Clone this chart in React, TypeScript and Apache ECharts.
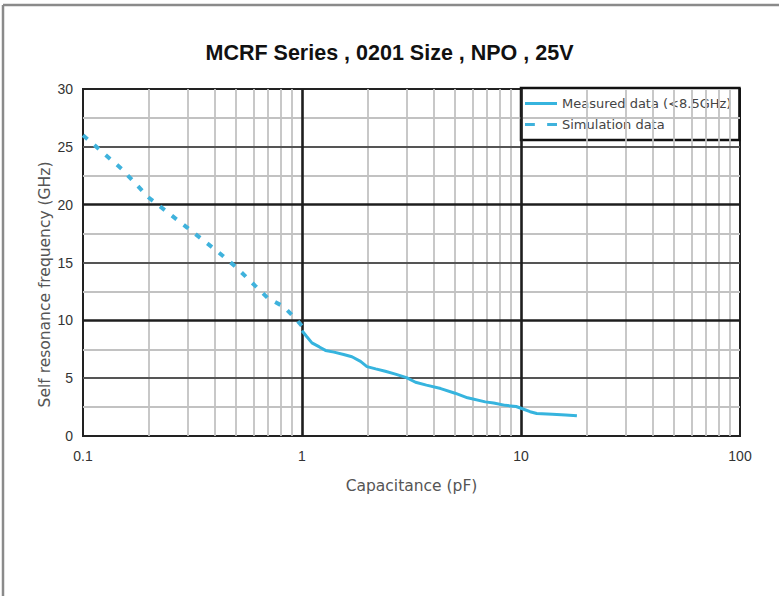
import React, { useEffect, useRef } from "react";
import * as echarts from "echarts";

const titleText = "MCRF Series , 0201 Size , NPO , 25V";
const xAxisName = "Capacitance (pF)";
const yAxisName = "Self resonance frequency (GHz)";
const seriesNames = ["Measured data (<8.5GHz)", "Simulation data"];

// Measured curve (capacitance pF -> SRF GHz)
const measuredC = [1, 1.05, 1.11, 1.2, 1.28, 1.4, 1.55, 1.69, 1.85, 1.98, 2.17, 2.4, 2.67, 3.0, 3.3, 3.7, 4.3, 5.0, 5.7, 6.87, 7.5, 8.48, 9.5, 10, 11, 11.8, 13.9, 16, 18];
const measuredF = [9.1, 8.6, 8.05, 7.7, 7.4, 7.25, 7.05, 6.85, 6.45, 6.0, 5.8, 5.6, 5.35, 5.05, 4.65, 4.4, 4.1, 3.7, 3.3, 2.95, 2.85, 2.65, 2.55, 2.4, 2.1, 1.95, 1.88, 1.82, 1.75];

// Simulation curve
const simC = [0.1, 0.15, 0.2, 0.3, 0.415, 0.5, 0.61, 0.7, 0.822, 0.94, 1];
const simF = [26, 23.1, 20.6, 18.0, 15.9, 14.6, 13.0, 11.9, 11.2, 10.1, 9.5];

// Axis ticks / gridlines
const xMin = 0.1;
const xMax = 100;
const yMin = 0;
const yMax = 30;
const yInterval = 5;
const minorXLines = [0.2, 0.3, 0.4, 0.5, 0.6, 0.7, 0.8, 0.9, 2, 3, 4, 5, 6, 7, 8, 9, 20, 30, 40, 50, 60, 70, 80, 90];
const majorXLines = [1, 10];
const minorYLines = [2.5, 7.5, 12.5, 17.5, 22.5, 27.5];
const midYLines = [5, 15, 25];
const majorYLines = [10, 20];

const measuredData = measuredC.map((c, i) => [c, measuredF[i]]);
const simData = simC.map((c, i) => [c, simF[i]]);

const lineColor = "#36b4de";
const simColor = "#3fb2dc";

export default function App() {
  const ref = useRef<HTMLDivElement>(null);
  useEffect(() => {
    if (!ref.current) return;
    const chart = echarts.init(ref.current, undefined, { renderer: "svg" });
    const lightStyle = { color: "#c2c2c2", width: 1.8, type: "solid" as const };
    const midStyle = { color: "#555555", width: 2, type: "solid" as const };
    const darkStyle = { color: "#1e1e1e", width: 2.6, type: "solid" as const };
    const gridLines = [
      ...minorXLines.map((v) => ({ xAxis: v, lineStyle: lightStyle })),
      ...minorYLines.map((v) => ({ yAxis: v, lineStyle: lightStyle })),
      ...midYLines.map((v) => ({ yAxis: v, lineStyle: midStyle })),
      ...majorYLines.map((v) => ({ yAxis: v, lineStyle: darkStyle })),
      ...majorXLines.map((v) => ({ xAxis: v, lineStyle: darkStyle })),
    ];
    chart.setOption({
      animation: false,
      backgroundColor: "#ffffff",
      textStyle: { fontFamily: "Liberation Sans, Arial, sans-serif" },
      title: {
        text: titleText,
        left: "center",
        top: 42,
        padding: 0,
        textStyle: { fontFamily: "Liberation Sans", fontWeight: "bold", fontSize: 21.5, color: "#111" },
      },
      graphic: [
        { type: "line", shape: { x1: 3, y1: 5, x2: 779, y2: 5 }, style: { stroke: "#8a8a8a", lineWidth: 2.5 } },
        { type: "line", shape: { x1: 3, y1: 5, x2: 3, y2: 596 }, style: { stroke: "#8a8a8a", lineWidth: 2.5 } },
      ],
      grid: {
        left: 83,
        right: 39,
        top: 89,
        bottom: 160,
        show: true,
        borderColor: "#222",
        borderWidth: 2,
        backgroundColor: "#fff",
      },
      legend: {
        data: [
          { name: seriesNames[0], icon: "path://M0,0h32v3h-32z", itemStyle: { color: lineColor } },
          { name: seriesNames[1], icon: "path://M0,0h8v3h-8z M18,0h8v3h-8z", itemStyle: { color: simColor } },
        ],
        orient: "vertical",
        left: 521,
        top: 88,
        itemWidth: 32,
        itemHeight: 3,
        symbolKeepAspect: false,
        itemGap: 8,
        backgroundColor: "#fff",
        borderColor: "#111",
        borderWidth: 2.5,
        borderRadius: 0,
        padding: [9, 8, 9, 4],
        textStyle: { fontFamily: "DejaVu Sans", fontSize: 13, color: "#444" },
      },
      xAxis: {
        type: "log",
        logBase: 10,
        min: xMin,
        max: xMax,
        name: xAxisName,
        nameLocation: "middle",
        nameGap: 42,
        nameTextStyle: { fontFamily: "DejaVu Sans", fontSize: 15.5, color: "#555" },
        axisLine: { show: false },
        axisTick: { show: false },
        splitLine: { show: false },
        axisLabel: {
          margin: 13,
          fontSize: 14,
          color: "#333",
          formatter: (v: number) => String(Number(v.toPrecision(3))),
        },
      },
      yAxis: {
        type: "value",
        min: yMin,
        max: yMax,
        interval: yInterval,
        name: yAxisName,
        nameLocation: "middle",
        nameGap: 30,
        nameMoveOverlap: false,
        nameTextStyle: { fontFamily: "DejaVu Sans", fontSize: 15.5, color: "#555", padding: [0, 44, 0, 0] },
        axisLine: { show: false },
        axisTick: { show: false },
        splitLine: { show: false },
        axisLabel: { margin: 10, fontSize: 14, color: "#333" },
      },
      series: [
        {
          name: "grid",
          type: "line",
          data: [],
          silent: true,
          z: 1,
          markLine: {
            silent: true,
            symbol: ["none", "none"],
            label: { show: false },
            animation: false,
            data: gridLines,
          },
        },
        {
          name: seriesNames[0],
          type: "line",
          data: measuredData,
          showSymbol: false,
          symbol: "none",
          z: 5,
          lineStyle: { color: lineColor, width: 3 },
          itemStyle: { color: lineColor },
        },
        {
          name: seriesNames[1],
          type: "line",
          data: simData,
          showSymbol: false,
          symbol: "none",
          z: 5,
          lineStyle: { color: simColor, width: 4, type: [6, 9] },
          itemStyle: { color: simColor },
        },
      ],
    });
    return () => chart.dispose();
  }, []);
  return <div ref={ref} style={{ position: "fixed", left: 0, top: 0, width: 779, height: 596 }} />;
}
